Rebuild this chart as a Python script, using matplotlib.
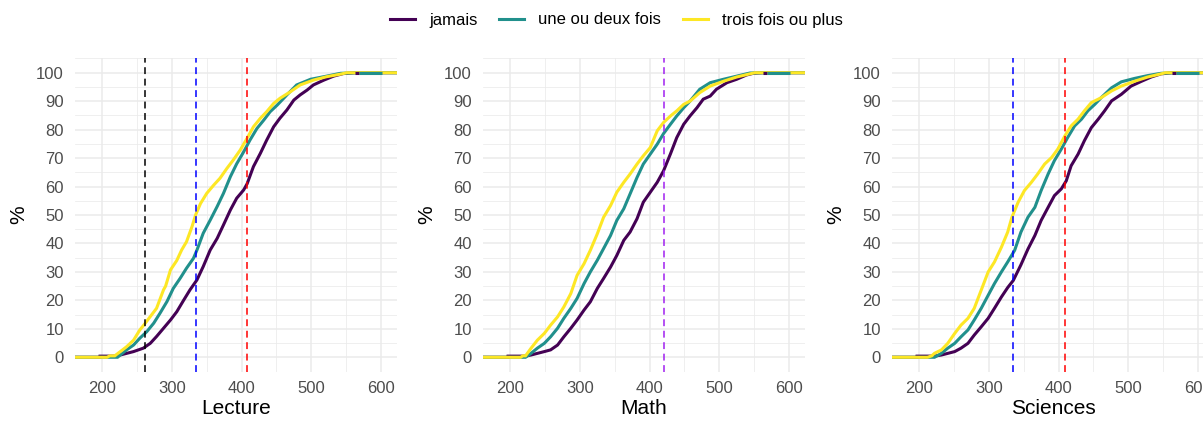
import numpy as np
import matplotlib
matplotlib.use("Agg")
import matplotlib.pyplot as plt
from matplotlib.lines import Line2D
from matplotlib.ticker import MultipleLocator

plt.rcParams['font.family'] = ['Liberation Sans', 'DejaVu Sans']

# ---------------- data ----------------
groups = ["jamais", "une ou deux fois", "trois fois ou plus"]
colors = ["#440154", "#21908C", "#FDE725"]
subjects = ["Lecture", "Math", "Sciences"]

# Lecture
lec_jamais_x = [197, 222, 226, 245, 259, 269, 278, 288, 298, 307, 317, 326, 336, 345, 355, 365, 374, 384, 393, 403, 408,
                417, 427, 436, 446, 455, 465, 475, 484, 494, 503, 518, 532, 546, 563, 568]
lec_jamais_y = [0.4, 0.4, 0.8, 2.0, 3.2, 4.9, 7.3, 10.2, 13.1, 16.0, 20.1, 23.7, 27.2, 31.9, 37.7, 41.8, 46.5, 51.8, 55.9,
                58.8, 61.0, 67.0, 71.7, 76.3, 81.0, 84.0, 86.9, 90.4, 92.2, 93.9, 95.7, 97.4, 98.8, 99.7, 100, 100]
lec_une_x = [222, 226, 235, 245, 254, 264, 274, 283, 293, 302, 312, 321, 331, 336, 345, 355, 365, 374, 384, 393, 403, 412,
             422, 432, 441, 451, 465, 479, 499, 522, 542, 568, 602]
lec_une_y = [0, 0.8, 2.6, 4.3, 6.7, 9.0, 12.0, 15.5, 19.6, 24.2, 27.8, 31.3, 34.8, 37.7, 43.6, 48.2, 53.0, 57.6, 63.5, 68.0,
             72.2, 76.3, 80.4, 83.4, 86.3, 88.6, 92.2, 95.7, 97.7, 98.8, 99.8, 100, 100]
lec_trois_x = [207, 211, 218, 226, 235, 245, 254, 260, 269, 278, 288, 291, 298, 307, 314, 321, 329, 334, 341, 350, 360, 369,
               379, 388, 398, 408, 417, 427, 436, 446, 455, 470, 484, 503, 522, 542, 551]
lec_trois_y = [0, 0.5, 0.5, 2.0, 3.7, 6.0, 9.6, 11.4, 14.3, 17.2, 23.7, 25.0, 30.7, 34.0, 37.7, 40.6, 46.0, 50.0, 54.0, 57.6,
               60.5, 62.9, 66.4, 69.3, 72.8, 77.0, 81.0, 84.0, 86.3, 89.2, 91.0, 93.3, 95.7, 97.4, 98.6, 99.5, 100]

# Math
mat_jamais_x = [197, 222, 230, 249, 258, 268, 277, 287, 296, 306, 315, 325, 334, 344, 353, 363, 372, 382, 391, 401, 411,
                420, 430, 439, 449, 458, 468, 477, 487, 496, 511, 525, 539, 549, 563, 568]
mat_jamais_y = [0.4, 0.4, 0.8, 2.0, 2.6, 4.3, 7.2, 10.2, 13.1, 16.6, 19.5, 24.2, 27.7, 31.7, 35.8, 41.1, 44.0, 48.7, 54.5,
                58.0, 61.5, 65.5, 71.5, 77.2, 81.9, 84.8, 87.7, 90.7, 91.8, 94.2, 96.5, 97.7, 99.2, 99.8, 100, 100]
mat_une_x = [222, 230, 239, 249, 258, 268, 277, 287, 296, 306, 315, 325, 334, 344, 353, 363, 372, 382, 391, 401, 411, 420,
             430, 439, 449, 458, 472, 487, 506, 525, 544, 568, 602]
mat_une_y = [0, 1.4, 3.2, 4.9, 7.2, 10.2, 13.7, 17.2, 20.7, 25.9, 30.0, 34.1, 38.2, 42.8, 48.1, 52.2, 57.4, 63.2, 67.9, 71.4,
             74.9, 78.6, 81.9, 84.8, 87.7, 90.0, 94.2, 96.5, 97.7, 98.8, 99.9, 100, 100]
mat_trois_x = [215, 218, 222, 230, 239, 249, 258, 268, 277, 287, 296, 306, 315, 325, 334, 344, 353, 363, 372, 382, 391, 401,
               411, 420, 430, 439, 449, 458, 472, 487, 506, 525, 544, 551]
mat_trois_y = [0, 0.5, 0.5, 3.2, 6.0, 8.4, 11.3, 14.2, 17.7, 22.4, 28.8, 32.9, 37.6, 43.4, 49.2, 53.3, 58.0, 61.5, 64.4,
               67.9, 70.8, 73.7, 79.6, 82.5, 84.8, 86.6, 88.9, 90.0, 93.0, 95.3, 97.0, 98.5, 99.6, 100]

# Sciences
sci_jamais_x = [197, 222, 232, 251, 260, 270, 279, 289, 299, 308, 318, 327, 335, 346, 356, 366, 375, 385, 394, 404, 411,
                418, 428, 437, 447, 457, 466, 476, 490, 504, 519, 533, 547, 563, 568]
sci_jamais_y = [0.4, 0.4, 0.8, 2.0, 3.2, 4.9, 7.8, 10.7, 13.7, 17.2, 21.2, 24.5, 27.0, 32.5, 38.0, 42.8, 48.1, 52.7, 56.8,
                59.2, 62.0, 67.3, 71.4, 76.1, 80.7, 83.7, 86.6, 90.1, 92.4, 95.3, 97.0, 98.5, 99.6, 100, 100]
sci_une_x = [222, 232, 241, 251, 260, 270, 279, 289, 299, 308, 318, 327, 337, 346, 356, 366, 375, 385, 394, 404, 413, 423,
             433, 442, 452, 461, 476, 490, 509, 528, 547, 568, 602]
sci_une_y = [0, 1.4, 3.2, 4.9, 7.2, 9.6, 13.1, 17.2, 21.8, 25.9, 30.0, 33.5, 37.6, 44.0, 49.2, 52.7, 58.6, 64.4, 69.1, 73.2,
             77.2, 81.3, 83.7, 86.6, 88.9, 91.2, 94.7, 96.8, 98.0, 99.0, 99.8, 100, 100]
sci_trois_x = [212, 218, 222, 232, 241, 251, 260, 270, 279, 289, 299, 308, 318, 327, 333, 342, 351, 361, 370, 380, 390, 399,
               409, 418, 428, 437, 447, 461, 476, 490, 509, 528, 547, 553]
sci_trois_y = [0, 0.5, 1.4, 2.6, 4.9, 8.4, 11.3, 13.7, 17.2, 23.6, 30.0, 33.5, 38.7, 44.0, 49.2, 54.5, 58.6, 61.5, 64.4,
               67.9, 70.2, 73.2, 77.8, 81.3, 83.7, 86.6, 89.5, 91.2, 93.6, 95.3, 97.0, 98.5, 99.6, 100]

# reference thresholds (vertical dashed lines)
lec_seuils = [262.04, 334.75, 407.47]
lec_seuil_colors = ["black", "blue", "red"]
mat_seuils = [420.07]
mat_seuil_colors = ["#A020F0"]
sci_seuils = [334.94, 409.54]
sci_seuil_colors = ["blue", "red"]

series = {
    "Lecture": [(lec_jamais_x, lec_jamais_y), (lec_une_x, lec_une_y), (lec_trois_x, lec_trois_y)],
    "Math": [(mat_jamais_x, mat_jamais_y), (mat_une_x, mat_une_y), (mat_trois_x, mat_trois_y)],
    "Sciences": [(sci_jamais_x, sci_jamais_y), (sci_une_x, sci_une_y), (sci_trois_x, sci_trois_y)],
}
seuils = {
    "Lecture": (lec_seuils, lec_seuil_colors),
    "Math": (mat_seuils, mat_seuil_colors),
    "Sciences": (sci_seuils, sci_seuil_colors),
}

# ---------------- figure ----------------
W, H = 1203, 423
fig = plt.figure(figsize=(W / 100, H / 100), dpi=100)

panel_lefts = [75, 483, 892]
panel_w = 322
panel_bottom = H - 371.5
panel_h = 313

xlim = (161, 623)
ylim = (-5, 105)
lw = 2.2
grid_c = "#EBEBEB"
tick_c = "#4D4D4D"

for i, subj in enumerate(subjects):
    ax = fig.add_axes([panel_lefts[i] / W, panel_bottom / H, panel_w / W, panel_h / H])
    ax.set_xlim(*xlim)
    ax.set_ylim(*ylim)
    for s in ax.spines.values():
        s.set_visible(False)
    ax.xaxis.set_major_locator(MultipleLocator(100))
    ax.xaxis.set_minor_locator(MultipleLocator(50))
    ax.yaxis.set_major_locator(MultipleLocator(10))
    ax.set_yticks(np.arange(-5, 106, 10), minor=True)
    ax.grid(which="major", color=grid_c, lw=1.1)
    ax.grid(which="minor", color=grid_c, lw=0.55)
    ax.set_axisbelow(True)
    ax.tick_params(which="both", length=0)
    ax.tick_params(axis="y", labelsize=12, labelcolor=tick_c, pad=8)
    ax.tick_params(axis="x", labelsize=12, labelcolor=tick_c, pad=7)

    x0, x1 = ax.get_xlim()
    for (xs, ys), c in zip(series[subj], colors):
        xx = np.concatenate([[x0, xs[0]], xs, [x1]])
        yy = np.concatenate([[0, 0], ys, [100]])
        ax.plot(xx, yy, color=c, lw=lw, solid_capstyle="butt", solid_joinstyle="miter", zorder=3)
    # last steps at 100 % of "jamais" and "une ou deux fois" appear above the yellow line
    for (xs, ys), c in list(zip(series[subj], colors))[:2]:
        ax.plot(xs[-2:], ys[-2:], color=c, lw=lw, solid_capstyle="butt", zorder=4)

    vals, cols = seuils[subj]
    for v, c in zip(vals, cols):
        ax.axvline(v, color=c, lw=1.1, linestyle=(0, (4.5, 3)), zorder=5)

    ax.set_xlabel(subj, fontsize=15, labelpad=2)
    ax.set_ylabel("%", fontsize=15, labelpad=6)

handles = [Line2D([], [], color=c, lw=lw) for c in colors]
fig.legend(handles, groups, loc="center", bbox_to_anchor=(616.5 / W, 1 - 20 / H), ncol=3, frameon=False,
           fontsize=12, handlelength=1.5, handletextpad=0.85, columnspacing=1.3)

fig.savefig("out.png", dpi=100)
